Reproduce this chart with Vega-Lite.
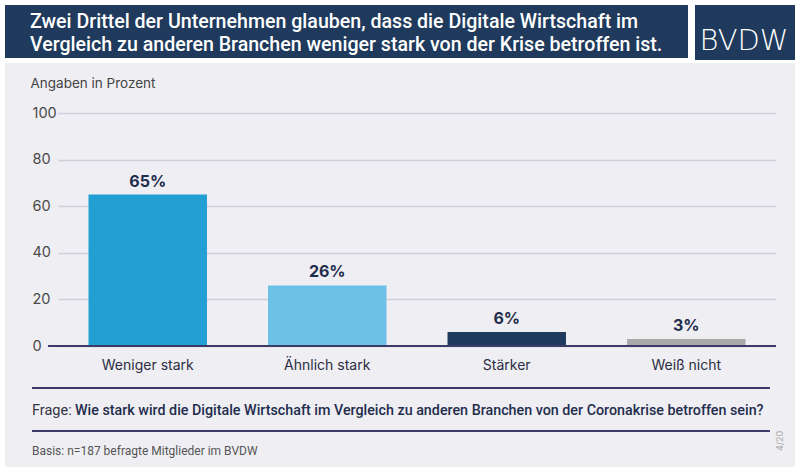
{
  "$schema": "https://vega.github.io/schema/vega-lite/v6.json",
  "autosize": {"type": "none"},
  "width": 718,
  "height": 233,
  "padding": {"left": 58, "top": 113, "right": 24, "bottom": 128},
  "background": "#efeef3",
  "config": {
    "view": {"stroke": null},
    "font": "Inter",
    "text": {"font": "Inter"}
  },
  "datasets": {
    "umfrage": [
      {"kategorie": "Weniger stark", "anteil": 65, "label": "65%"},
      {"kategorie": "Ähnlich stark", "anteil": 26, "label": "26%"},
      {"kategorie": "Stärker", "anteil": 6, "label": "6%"},
      {"kategorie": "Weiß nicht", "anteil": 3, "label": "3%"}
    ]
  },
  "layer": [
    {
      "data": {"values": [{}]},
      "mark": {"type": "rect", "color": "#ffffff", "clip": false},
      "encoding": {"x": {"value": -58}, "x2": {"value": 742}, "y": {"value": -113}, "y2": {"value": -50}}
    },
    {
      "data": {"values": [{}]},
      "mark": {"type": "rect", "color": "#ffffff", "clip": false},
      "encoding": {"x": {"value": -58}, "x2": {"value": -53}, "y": {"value": -113}, "y2": {"value": 361}}
    },
    {
      "data": {"values": [{}]},
      "mark": {"type": "rect", "color": "#ffffff", "clip": false},
      "encoding": {"x": {"value": 737}, "x2": {"value": 742}, "y": {"value": -113}, "y2": {"value": 361}}
    },
    {
      "data": {"values": [{}]},
      "mark": {"type": "rect", "color": "#ffffff", "clip": false},
      "encoding": {"x": {"value": -58}, "x2": {"value": 742}, "y": {"value": 354}, "y2": {"value": 361}}
    },
    {
      "data": {"values": [{}]},
      "mark": {"type": "rect", "color": "#1f3a5c", "clip": false},
      "encoding": {"x": {"value": -53}, "x2": {"value": 630}, "y": {"value": -108}, "y2": {"value": -55}}
    },
    {
      "data": {"values": [{}]},
      "mark": {"type": "rect", "color": "#1f3a5c", "clip": false},
      "encoding": {"x": {"value": 637}, "x2": {"value": 737}, "y": {"value": -108}, "y2": {"value": -53}}
    },
    {
      "data": {"values": [{}]},
      "mark": {"type": "text", "font": "Roboto", "fontSize": 19.6, "fontWeight": 500, "color": "#ffffff", "align": "left", "baseline": "alphabetic", "lineHeight": 23},
      "encoding": {
        "x": {"value": -28}, "y": {"value": -85},
        "text": {"value": ["Zwei Drittel der Unternehmen glauben, dass die Digitale Wirtschaft im", "Vergleich zu anderen Branchen weniger stark von der Krise betroffen ist."]}
      }
    },
    {
      "data": {"values": [{}]},
      "mark": {"type": "text", "font": "DejaVu Sans", "fontSize": 29, "fontWeight": 200, "color": "#ffffff", "align": "center", "baseline": "alphabetic"},
      "encoding": {"x": {"value": 686}, "y": {"value": -63}, "text": {"value": "BVDW"}}
    },
    {
      "data": {"name": "umfrage"},
      "mark": {"type": "bar"},
      "encoding": {
        "x": {
          "field": "kategorie", "type": "nominal", "sort": null,
          "scale": {"paddingInner": 0.34, "paddingOuter": 0.17},
          "axis": {"title": null, "labelAngle": 0, "domain": false, "ticks": false, "labelPadding": 12, "labelFontSize": 14, "labelColor": "#2b2d42", "labelFont": "Inter"}
        },
        "y": {
          "field": "anteil", "type": "quantitative",
          "scale": {"domain": [0, 100]},
          "axis": {
            "values": [0, 20, 40, 60, 80, 100],
            "title": "Angaben in Prozent", "titleAngle": 0, "titleX": -28, "titleY": -30, "titleAlign": "left", "titleBaseline": "middle",
            "titleFont": "Inter", "titleFontSize": 13.5, "titleFontWeight": "normal", "titleColor": "#444444",
            "domain": false, "ticks": false, "tickSize": 0, "labelAlign": "left", "labelPadding": 26,
            "labelFont": "Inter", "labelFontSize": 14.5, "labelColor": "#4a4a4a",
            "grid": true, "gridColor": "#cfcfdc", "gridWidth": 1.5
          }
        },
        "color": {
          "field": "kategorie", "type": "nominal", "legend": null,
          "scale": {"domain": ["Weniger stark", "Ähnlich stark", "Stärker", "Weiß nicht"], "range": ["#22a0d4", "#6ec1e6", "#1f3a5c", "#a9a9a9"]}
        }
      }
    },
    {
      "data": {"name": "umfrage"},
      "mark": {"type": "text", "font": "Inter", "fontSize": 16, "fontWeight": "bold", "color": "#1f2d4d", "baseline": "alphabetic", "dy": -8},
      "encoding": {
        "x": {"field": "kategorie", "type": "nominal", "sort": null},
        "y": {"field": "anteil", "type": "quantitative"},
        "text": {"field": "label"}
      }
    },
    {
      "data": {"values": [{}]},
      "mark": {"type": "rule", "color": "#3b3a68", "strokeWidth": 2, "clip": false},
      "encoding": {"x": {"value": -10}, "x2": {"value": 718}, "y": {"value": 233}}
    },
    {
      "data": {"values": [{}]},
      "mark": {"type": "rule", "color": "#3b3a68", "strokeWidth": 2, "clip": false},
      "encoding": {"x": {"value": -26}, "x2": {"value": 712}, "y": {"value": 275}}
    },
    {
      "data": {"values": [{}]},
      "mark": {"type": "rule", "color": "#3b3a68", "strokeWidth": 2, "clip": false},
      "encoding": {"x": {"value": -26}, "x2": {"value": 712}, "y": {"value": 318}}
    },
    {
      "data": {"values": [{}]},
      "mark": {"type": "text", "font": "Roboto", "fontSize": 14.5, "color": "#333344", "align": "left", "baseline": "alphabetic"},
      "encoding": {"x": {"value": -26}, "y": {"value": 302}, "text": {"value": "Frage:"}}
    },
    {
      "data": {"values": [{}]},
      "mark": {"type": "text", "font": "Roboto", "fontSize": 14.3, "fontWeight": 500, "color": "#1f2d4d", "align": "left", "baseline": "alphabetic"},
      "encoding": {"x": {"value": 17}, "y": {"value": 302}, "text": {"value": "Wie stark wird die Digitale Wirtschaft im Vergleich zu anderen Branchen von der Coronakrise betroffen sein?"}}
    },
    {
      "data": {"values": [{}]},
      "mark": {"type": "text", "font": "Roboto", "fontSize": 12, "color": "#555555", "align": "left", "baseline": "alphabetic"},
      "encoding": {"x": {"value": -26}, "y": {"value": 342}, "text": {"value": "Basis: n=187 befragte Mitglieder im BVDW"}}
    },
    {
      "data": {"values": [{}]},
      "mark": {"type": "text", "font": "Inter", "fontSize": 9, "color": "#aaaaaa", "align": "center", "baseline": "middle", "angle": 270},
      "encoding": {"x": {"value": 722}, "y": {"value": 328}, "text": {"value": "4/20"}}
    }
  ]
}
